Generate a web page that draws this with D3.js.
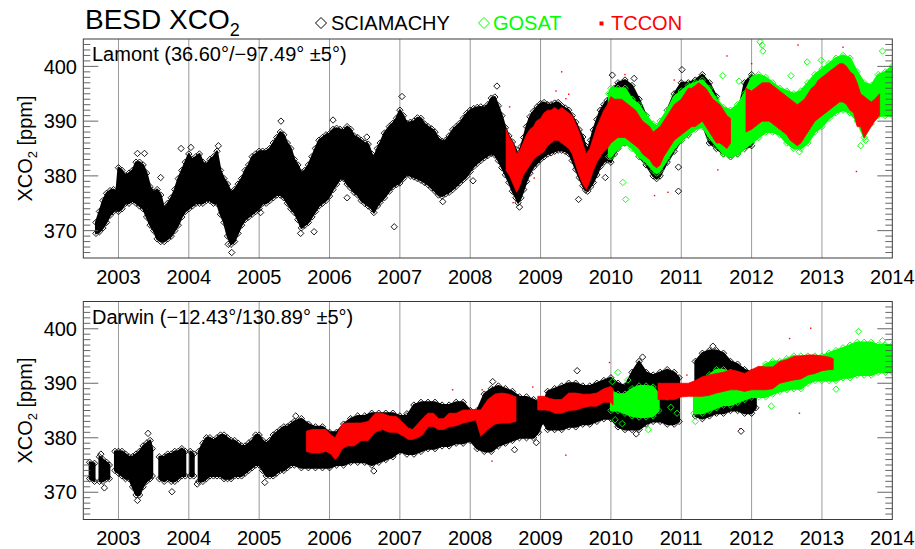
<!DOCTYPE html>
<html><head><meta charset="utf-8">
<script src="https://cdn.jsdelivr.net/npm/d3@7"></script>
<style>body{margin:0;background:#fff}svg text{font-family:"Liberation Sans",Arial,Helvetica,sans-serif}</style>
</head><body><svg id="c" width="915" height="549"></svg>
<script>
// ---------- data ----------
const yearTicks=[2003,2004,2005,2006,2007,2008,2009,2010,2011,2012,2013,2014];
const yTicks=[370,380,390,400];
const seriesNames=["SCIAMACHY","GOSAT","TCCON"];
const seriesColors=["#000000","#00ff00","#ff0000"];
const siteLabels=["Lamont (36.60°/\u221297.49° \u00b15°)","Darwin (\u221212.43°/130.89° \u00b15°)"];

// [year, low, high] envelopes of the point clouds (null = gap)
const sciaLamont=[[2002.68,369.5,371.5],[2002.73,369.8,373.5],[2002.78,370.5,375.5],[2002.83,371.5,376.8],[2002.88,372.8,377.3],[2002.93,373.5,377.5],[2002.97,374,377],[2003.00,373.5,381.5],[2003.05,374,381],[2003.10,375,380],[2003.15,375,380.5],[2003.20,375.5,381],[2003.25,375,382.5],[2003.30,374.5,382.5],[2003.35,374,382],[2003.40,372.5,380.5],[2003.45,371,378],[2003.50,370,377],[2003.55,368.5,377.5],[2003.60,368,376.5],[2003.65,368,374],[2003.70,368.5,375],[2003.75,369,376],[2003.80,370,377.5],[2003.85,371,379.5],[2003.90,372.5,381],[2003.95,373.5,382.5],[2004.00,374,384],[2004.05,374.5,383],[2004.10,375,383.5],[2004.15,375,384],[2004.20,375,382.5],[2004.25,375.5,382],[2004.30,375.5,383],[2004.35,375,383.5],[2004.40,375,384.5],[2004.45,373,381],[2004.50,371.5,379.5],[2004.55,369,378.5],[2004.60,367.5,377],[2004.65,368,377.5],[2004.70,369.5,378.5],[2004.75,371,379.5],[2004.80,372,381],[2004.85,372.5,382],[2004.90,373,383.5],[2004.95,373.5,384],[2005.00,374,384.5],[2005.05,375,384.5],[2005.10,375,384.5],[2005.15,375.5,385],[2005.20,376,386],[2005.25,376.5,387],[2005.30,376.5,388],[2005.35,376,387.5],[2005.40,375,386],[2005.45,374,385],[2005.50,373.3,383],[2005.55,372,382],[2005.60,370.5,380.5],[2005.65,371,381],[2005.70,371.5,382],[2005.75,372.5,383.5],[2005.80,373.5,385],[2005.85,374.5,386.5],[2005.90,375,387],[2005.95,375.5,387.5],[2006.00,376.3,387.7],[2006.05,377.5,388.5],[2006.10,378.5,388.7],[2006.15,379.5,388.5],[2006.20,379.5,388.3],[2006.25,378.5,389],[2006.30,377.8,388.5],[2006.35,377,387.3],[2006.40,376.5,387],[2006.45,375.5,386.5],[2006.50,375,386],[2006.55,374.5,385.8],[2006.60,374,384],[2006.63,373.3,383.3],[2006.68,374.5,385],[2006.72,375.2,386],[2006.78,376,387.8],[2006.85,377.2,389],[2006.90,378,389.6],[2006.95,378.4,390.5],[2007.00,378.7,392],[2007.05,379.5,391],[2007.10,380.3,389.6],[2007.15,380,389.8],[2007.20,379.8,390],[2007.25,379.5,390.6],[2007.30,379.2,390.5],[2007.35,378.8,389.5],[2007.40,378.4,389],[2007.45,377.8,388.6],[2007.50,377.2,388],[2007.55,376.5,386.8],[2007.60,376.3,386.3],[2007.65,376.7,386.5],[2007.70,377,387.3],[2007.75,377.5,388.4],[2007.80,378.1,389],[2007.85,378.7,389.6],[2007.90,379.3,390.5],[2007.95,379.9,391.4],[2008.00,380.8,392],[2008.05,381.7,392.3],[2008.10,382.3,392.5],[2008.15,382.8,392.6],[2008.20,383.3,392.4],[2008.25,383.7,393],[2008.30,384.1,394.2],[2008.35,383.8,394.4],[2008.40,382.8,392.8],[2008.45,381.5,391],[2008.50,380.2,388.8],[2008.55,378.8,387.3],[2008.60,377.2,386.2],[2008.65,376,384.8],[2008.68,375.1,383.5],[2008.72,376,385.3],[2008.76,377.5,387],[2008.80,379,389],[2008.85,380.5,390.8],[2008.90,381.6,391.8],[2008.95,382.3,392.6],[2009.00,383,393.2],[2009.05,383.5,393.4],[2009.10,384,393],[2009.15,384.2,393],[2009.20,384.5,393.3],[2009.25,384.7,393.4],[2009.30,384.7,392.8],[2009.35,384.5,392.4],[2009.40,384.1,392],[2009.45,382.8,391],[2009.50,381.2,389.8],[2009.55,379.7,388.4],[2009.60,378.2,387.1],[2009.64,377.4,385.5],[2009.67,377.2,384.7],[2009.71,378,386.5],[2009.75,378.8,388.4],[2009.80,380.2,390.3],[2009.85,381.7,392],[2009.90,382.5,393],[2009.95,382.9,393.8],[2010.00,382.5,395],[2010.05,384,396],[2010.10,385,397],[2010.20,386,397.5],[2010.30,385.5,396.5],[2010.40,383.5,394],[2010.50,382,391],[2010.60,380,388],[2010.65,379.5,386],[2010.70,380,388],[2010.80,382.5,392],[2010.90,384.5,395],[2011.00,386.5,397],[2011.10,387.5,397],[2011.20,389,397.5],[2011.30,389.5,398.5],[2011.40,386,397],[2011.50,385,394.5],[2011.60,384,390],[2011.70,383.5,388.5],[2011.80,384,391],[2011.90,385,397],[2012.00,385.5,398.5],[2012.05,387,396]];
const sciaLamontOut=[[2003.27,384.1],[2003.37,384.1],[2003.60,379.7],[2004.61,366],[2004.56,367.5],[2005.31,390],[2003.89,385],[2004.03,385.2],[2004.42,385.5],[2005.02,373.3],[2006.25,376],[2006.92,370.7],[2007.03,394.5],[2005.78,369.8],[2005.59,369.5],[2007.61,375.3],[2008.04,379.1],[2008.38,396.4],[2008.70,374.3],[2009.54,375.7],[2009.92,379.7],[2010.02,398.4],[2006.53,387.1],[2010.96,377.2],[2010.96,381.6],[2011.01,399.4],[2010.33,397.8],[2010.64,380.2],[2006.05,390.2]];
const gosatLamont=[[2009.97,383.5,395],[2010.00,383.5,396],[2010.10,385,396],[2010.20,386,396],[2010.30,385,394],[2010.40,383.5,393],[2010.50,382.5,391],[2010.60,381,389.5],[2010.65,380.5,389],[2010.70,381,390],[2010.80,383,392],[2010.90,385,394.5],[2011.00,386.5,395.5],[2011.10,387.5,396.5],[2011.20,388.5,397],[2011.30,389,397.5],[2011.40,387,396],[2011.50,385.5,394],[2011.60,384,392.5],[2011.70,383.5,392],[2011.80,384,393],[2011.90,385,395],[2012.00,386,398],[2012.10,387,398.5],[2012.20,388,398],[2012.30,388,397],[2012.40,387.5,396],[2012.50,386,395.5],[2012.60,385,395],[2012.70,385,395.5],[2012.80,386,397],[2012.90,388,398.5],[2013.00,389,399.5],[2013.10,390.5,400.5],[2013.20,391.5,401.5],[2013.30,392,402],[2013.40,391.5,401.5],[2013.50,390,399],[2013.60,387,397],[2013.70,389.5,396.5],[2013.80,391,398.5],[2013.90,391,399],[2014.00,391,400]];
const gosatLamontOut=[[2010.17,378.8],[2010.21,375.7],[2012.15,403.9],[2012.16,402.8],[2012.56,398.3],[2012.79,400.8],[2012.99,401.1],[2013.86,402.8],[2011.59,398.3],[2011.82,397.3],[2012.68,384.4],[2013.62,386.5],[2013.55,385.5],[2012.12,404.5]];
const tcconLamont=[[2008.51,381,388.5],[2008.56,380,387],[2008.61,378.5,386],[2008.66,377,384],[2008.70,378,384.5],[2008.75,380,386],[2008.80,381,387.5],[2008.85,382,388.5],[2008.90,383,389],[2008.94,383.5,390],[2009.00,384,390.5],[2009.05,384.5,391.5],[2009.10,385.5,392],[2009.15,386,392],[2009.20,386.5,392.5],[2009.25,386.5,392],[2009.30,386,392.5],[2009.35,385.5,392],[2009.40,385,391.5],[2009.45,384,391],[2009.50,382,389.5],[2009.55,380,388],[2009.60,378.5,386],[2009.65,377.5,384],[2009.70,379,385],[2009.75,381,387],[2009.80,382.5,389],[2009.85,383.5,390.5],[2009.90,384.5,392],[2009.95,385,393],[2010.00,386,394.5],[2010.05,386.5,394],[2010.10,387,394],[2010.15,387,394],[2010.20,387,393.5],[2010.25,386.5,393],[2010.30,386,392.5],[2010.35,385.5,392],[2010.40,385,391],[2010.45,384,390],[2010.50,383.5,389.5],[2010.55,383,389],[2010.60,382,388],[2010.65,381.5,388.5],[2010.70,382,389],[2010.75,383.5,390],[2010.80,384.5,391],[2010.85,385.5,392],[2010.90,386.5,393],[2010.95,387,393.5],[2011.00,387.5,394],[2011.05,388,395],[2011.10,388.5,396],[2011.15,389,396],[2011.20,389,396.5],[2011.25,389.5,397],[2011.30,390,396.5],[2011.35,389,396],[2011.40,388,395],[2011.45,387,394],[2011.50,386,393.5],[2011.55,386,393],[2011.60,385.5,392],[2011.65,385,391],[2011.70,386,390.5],[2011.72,null,null],[2011.92,388,396],[2012.00,388.5,395.5],[2012.05,389,396],[2012.10,389.5,396.5],[2012.15,390,397],[2012.20,390,397],[2012.25,390,397],[2012.30,389.5,396.5],[2012.35,389,396],[2012.40,388.5,395.5],[2012.45,388,395],[2012.50,387.5,394.5],[2012.55,386.5,394],[2012.60,386,393.5],[2012.65,385.5,393],[2012.70,386,393.5],[2012.75,387,394],[2012.80,388,395],[2012.85,389,396],[2012.90,390,396.5],[2012.95,390.5,397.5],[2013.00,391,398],[2013.05,391.5,398.5],[2013.10,392,399],[2013.15,392.5,399.5],[2013.20,393,400],[2013.25,393.5,400.5],[2013.30,393.5,400.5],[2013.35,393,400],[2013.40,392,399],[2013.45,391.5,398.5],[2013.50,389,397],[2013.55,389,395],[2013.60,387,394.5],[2013.65,388,394],[2013.70,389,393.5],[2013.75,390,394],[2013.82,391,395]];
const tcconLamontOut=[[2009.30,399],[2009.22,395.5],[2009.36,394.1],[2008.56,392.6],[2008.61,375.1],[2008.91,379.6],[2009.69,377.5],[2012.66,403.9],[2011.65,401.9],[2013.49,380.8],[2011.52,381.1],[2010.81,377],[2010.62,376.4],[2010.20,398.5],[2009.40,394.9],[2010.90,397.5],[2012.00,400.5],[2013.30,403.5]];

const sciaDarwin=[[2002.59,372.5,375.5],[2002.66,372,375.3],[2002.69,null,null],[2002.73,372,376.5],[2002.78,372,376],[2002.83,372.5,375.5],[2002.87,372.5,375],[2002.91,null,null],[2002.95,374,377.5],[2003.00,373.5,377.5],[2003.05,373,377.5],[2003.10,372.5,377],[2003.15,372.5,376.5],[2003.20,371,376.5],[2003.25,369.5,377],[2003.30,369.5,377.5],[2003.35,371,378.5],[2003.40,372,379],[2003.45,372.5,379.5],[2003.48,373,378],[2003.52,null,null],[2003.58,372.5,376.5],[2003.65,372,376.5],[2003.70,372.5,377],[2003.75,372,377],[2003.80,372,377.5],[2003.85,372.5,377.5],[2003.90,373,378],[2003.95,373,377.5],[2003.98,null,null],[2004.02,373,377.5],[2004.07,373,377],[2004.10,null,null],[2004.14,372,377.5],[2004.20,372,379],[2004.25,372.5,380],[2004.30,373,380],[2004.35,373,379.5],[2004.40,373,380],[2004.45,373,380.5],[2004.50,372.5,380.5],[2004.55,372.5,380],[2004.60,372.5,379.5],[2004.65,373,379.5],[2004.70,373,379],[2004.75,373,378.5],[2004.80,373.5,378.5],[2004.85,374,379],[2004.90,374.5,379.5],[2004.95,375,380.5],[2005.00,375,380.5],[2005.05,374,379.5],[2005.10,373,379],[2005.15,373,379.5],[2005.20,373,380.5],[2005.25,373.5,381],[2005.30,374,381.5],[2005.35,374,382],[2005.40,374.5,382],[2005.45,375,382.5],[2005.50,375,383],[2005.60,374.5,383.5],[2005.70,374.5,382.5],[2005.80,374.5,382],[2005.90,374.5,382],[2006.00,374.5,381],[2006.10,375,381],[2006.20,375,382.5],[2006.30,375.5,383.5],[2006.40,375.5,384],[2006.50,375.5,384],[2006.60,375,384.5],[2006.70,375.5,384.5],[2006.80,376,384.5],[2006.90,376.5,384.5],[2007.00,377.5,384],[2007.10,377,384],[2007.20,377,386],[2007.30,377.5,386.5],[2007.40,378,386.5],[2007.50,378,386.5],[2007.60,378.5,386],[2007.70,378.5,386],[2007.80,379,386.5],[2007.90,379,386.5],[2008.00,379.5,385],[2008.10,378,385],[2008.20,377.5,388],[2008.30,377.5,389],[2008.40,378.5,389.5],[2008.50,379,389],[2008.60,379.5,388.5],[2008.70,380,387.5],[2008.80,380,387.5],[2008.90,380,387],[2008.97,381,386.5],[2009.03,383,386],[2009.10,381.5,388.5],[2009.20,381.5,389],[2009.30,381.5,389.5],[2009.40,382,390],[2009.50,382,390],[2009.60,382.5,389.5],[2009.70,382.5,389.5],[2009.80,383,390],[2009.90,383.5,390.5],[2010.00,383.5,391],[2010.10,382,390],[2010.20,381.5,389.5],[2010.30,381.5,392],[2010.40,381.5,394],[2010.50,382.5,392],[2010.60,383,391.5],[2010.70,383,392],[2010.80,382.5,392.5],[2010.90,382.5,392],[2010.97,383,391],[2011.00,null,null],[2011.20,384,394],[2011.30,383.5,395.5],[2011.40,384,396],[2011.50,384.5,396],[2011.60,384.5,395.5],[2011.70,385,394],[2011.80,385,393.5],[2011.90,384.5,392.5],[2012.00,384.5,392],[2012.06,385.5,391.5]];
const sciaDarwinOut=[[2009.52,392.3],[2008.94,379.1],[2008.63,377.8],[2007.10,384.4],[2006.63,373.9],[2005.52,384],[2008.32,390.3],[2003.42,380.8],[2003.76,370.1],[2003.27,368.5],[2002.75,377],[2002.80,370.8],[2004.12,371.5],[2005.08,371.8],[2010.45,394.8],[2011.45,396.8],[2011.85,381.2],[2010.36,380.7]];
const gosatDarwin=[[2010.00,385,388.5],[2010.10,385,388],[2010.20,384.5,388],[2010.30,384,389],[2010.40,383.8,389.5],[2010.50,383.8,389.5],[2010.60,384,389.3],[2010.68,385,388],[2010.75,null,null],[2011.18,384.5,389.5],[2011.30,384.5,390.5],[2011.40,385,391.5],[2011.50,385.5,392.5],[2011.60,386,392.5],[2011.70,386,392],[2011.80,386.5,391.5],[2011.90,387,391],[2012.00,387.5,391.5],[2012.10,387.5,392.5],[2012.20,387.5,393.5],[2012.30,388,394],[2012.40,388.5,394],[2012.50,388.8,394.5],[2012.60,389,395],[2012.70,389,395],[2012.80,390,395],[2012.90,390.5,395],[2013.00,390.5,395],[2013.10,390.5,395.5],[2013.20,390.5,396],[2013.30,391,396.5],[2013.40,391,397],[2013.50,391.5,397.5],[2013.60,391.5,397.5],[2013.70,391.5,397.5],[2013.80,392,397],[2013.90,392,397],[2014.00,392,397]];
const gosatDarwinOut=[[2013.52,399.5],[2010.53,381.5],[2013.20,388.9],[2012.28,385.8],[2013.86,397.8],[2011.20,383],[2010.10,392],[2010.02,390.3],[2010.06,383.3],[2010.16,382.6],[2010.24,390.6],[2010.80,387.5],[2010.85,385.6],[2010.90,388.4],[2010.94,384.5],[2010.78,389],[2011.9,389.2]];
const tcconDarwin=[[2005.67,377.5,381.2],[2005.75,377.2,381.5],[2005.85,377.2,381.5],[2005.95,377.5,381.5],[2006.02,377,380.5],[2006.08,376,380],[2006.12,376.5,381],[2006.18,378,382.5],[2006.25,378.5,382.7],[2006.35,378.5,382.7],[2006.45,379.5,382.7],[2006.55,379.5,383],[2006.65,381,384.5],[2006.75,381.5,384.5],[2006.85,381,384],[2006.95,381,383.9],[2007.05,380.3,382.7],[2007.12,379.7,381.8],[2007.18,379.7,381.5],[2007.25,380,382.5],[2007.32,380.5,383.5],[2007.40,382,384.5],[2007.48,382,384.5],[2007.55,381.5,383.5],[2007.62,381.5,383.5],[2007.70,382,384.5],[2007.80,382.2,384.5],[2007.90,382.7,385.1],[2008.00,383,385.1],[2008.08,383.3,385.1],[2008.15,380.3,385.1],[2008.25,381.5,387],[2008.35,382.5,388],[2008.45,382.7,388.2],[2008.55,382.7,388],[2008.65,383,387.5],[2008.68,null,null],[2008.96,385.1,387.6],[2009.05,385.1,387.6],[2009.13,385,387.2],[2009.20,384.5,387],[2009.30,384.5,387],[2009.40,385,388.2],[2009.50,385.1,388.2],[2009.60,385.5,388],[2009.70,385.8,388],[2009.80,385.8,388.2],[2009.90,386.5,389],[2010.00,386.5,389.4],[2010.03,386,389],[2010.06,null,null],[2010.67,387,390],[2010.80,387,390],[2010.90,387,390],[2011.00,387.5,390],[2011.10,387.6,390],[2011.20,387.6,390.5],[2011.30,387.6,391.2],[2011.40,387.8,391.5],[2011.50,388.2,391.8],[2011.60,388.5,392],[2011.70,388.8,392.5],[2011.80,388.8,392.2],[2011.90,388.5,391.8],[2012.00,388.8,392.5],[2012.10,388.8,393.1],[2012.20,388.8,393],[2012.30,389,393],[2012.40,390,394],[2012.50,390.3,394.3],[2012.60,390.6,394.9],[2012.70,390.8,395],[2012.80,391.5,395.2],[2012.90,391.8,395.2],[2013.00,392.3,395],[2013.10,392.5,394.8],[2013.16,392.5,394.5]];
const tcconDarwinOut=[[2012.84,400.1],[2012.54,398.2],[2012.68,384.5],[2011.83,381.6],[2011.08,391.5],[2007.75,388.8],[2008.17,388.8],[2008.89,389.3],[2009.36,376.8],[2008.31,375.7],[2009.98,393.8]];

// ---------- drawing ----------
const svg=d3.select("#c");
const x=d3.scaleLinear().domain([2002.5,2014]).range([83.3,892.3]);
const panels=[
 {top:39,bottom:258,label:siteLabels[0],sets:[[sciaLamont,sciaLamontOut],[gosatLamont,gosatLamontOut],[tcconLamont,tcconLamontOut]]},
 {top:301.5,bottom:519.5,label:siteLabels[1],sets:[[sciaDarwin,sciaDarwinOut],[gosatDarwin,gosatDarwinOut],[tcconDarwin,tcconDarwinOut]]}
];
const dia=r=>`M0,${-r}L${r},0L0,${r}L${-r},0Z`;

panels.forEach((p,pi)=>{
  const y=d3.scaleLinear().domain([365,405]).range([p.bottom,p.top]);
  const g=svg.append("g");
  const cid="clip"+pi;
  svg.append("clipPath").attr("id",cid).append("rect")
    .attr("x",x.range()[0]).attr("y",p.top).attr("width",x.range()[1]-x.range()[0]).attr("height",p.bottom-p.top);
  g.selectAll(".grid").data(yearTicks.slice(0,-1)).join("line")
    .attr("x1",d=>x(d)).attr("x2",d=>x(d)).attr("y1",p.top).attr("y2",p.bottom)
    .attr("stroke","#9a9a9a").attr("stroke-width",1);
  const data=g.append("g").attr("clip-path",`url(#${cid})`);
  const area=d3.area().defined(d=>d[1]!=null).x(d=>x(d[0])).y0(d=>y(d[1])).y1(d=>y(d[2]));
  p.sets.forEach((s,si)=>{
    const col=seriesColors[si];
    const env=s[0],out=s[1];
    data.append("path").datum(env).attr("d",area).attr("fill",col)
      .attr("stroke",col).attr("stroke-width",si==2?0.8:2).attr("stroke-linejoin","round");
    const def=env.filter(d=>d[1]!=null);
    if(si<2){
      const edge=[];
      def.forEach(d=>{edge.push([d[0],d[1]]);edge.push([d[0],d[2]]);});
      data.selectAll(null).data(edge.concat(out)).join("path")
        .attr("d",dia(3.2)).attr("transform",d=>`translate(${x(d[0])},${y(d[1])})`)
        .attr("fill","none").attr("stroke",col).attr("stroke-width",0.9);
    } else {
      data.selectAll(null).data(out).join("rect")
        .attr("x",d=>x(d[0])-0.7).attr("y",d=>y(d[1])-0.7).attr("width",1.4).attr("height",1.4)
        .attr("fill",col);
    }
  });
  g.append("rect").attr("x",x.range()[0]).attr("y",p.top)
    .attr("width",x.range()[1]-x.range()[0]).attr("height",p.bottom-p.top)
    .attr("fill","none").attr("stroke","#3a3a3a").attr("stroke-width",1);
  const xm=d3.range(2025,2140).map(v=>v/10).filter(v=>v>2002.5&&v<2014);
  g.selectAll(".xt").data(xm).join("path")
    .attr("d",d=>`M${x(d)},${p.bottom}v-3.5M${x(d)},${p.top}v3.5`)
    .attr("stroke","#555").attr("stroke-width",0.8);
  const ym=d3.range(366,405);
  g.selectAll(".yt").data(ym).join("path")
    .attr("d",d=>{const L=(d%10==0)?15:7;return `M${x.range()[0]},${y(d)}h${L}M${x.range()[1]},${y(d)}h${-L}`;})
    .attr("stroke","#555").attr("stroke-width",0.9);
  g.selectAll(".yl").data(yTicks).join("text")
    .attr("x",77).attr("y",d=>y(d)).attr("dy","0.36em").attr("text-anchor","end")
    .attr("font-size",20).text(d=>d);
  g.selectAll(".xl").data(yearTicks).join("text")
    .attr("x",d=>x(d)).attr("y",p.bottom+25.5).attr("text-anchor","middle")
    .attr("font-size",20).text(d=>d);
  const yt=g.append("text").attr("transform",`translate(32,${(p.top+p.bottom)/2}) rotate(-90)`)
    .attr("text-anchor","middle").attr("font-size",20);
  yt.append("tspan").text("XCO");
  yt.append("tspan").attr("font-size",13).attr("dy",5).text("2");
  yt.append("tspan").attr("dy",-5).text(" [ppm]");
  g.append("text").attr("x",92).attr("y",p.top+22).attr("font-size",20).text(p.label);
});

const t=svg.append("text").attr("x",85).attr("y",29).attr("font-size",28);
t.append("tspan").text("BESD XCO");
t.append("tspan").attr("font-size",18).attr("dy",7).text("2");
const leg=[{x:321,t:331},{x:484,t:493},{x:601.5,t:611}];
seriesNames.forEach((n,i)=>{
  if(i<2){
    svg.append("path").attr("d",dia(5.5)).attr("transform",`translate(${leg[i].x},23)`)
      .attr("fill","none").attr("stroke",seriesColors[i]).attr("stroke-width",1);
  } else {
    svg.append("rect").attr("x",leg[i].x-2).attr("y",21.5).attr("width",4).attr("height",4).attr("fill",seriesColors[i]);
  }
  svg.append("text").attr("x",leg[i].t).attr("y",30).attr("font-size",20)
    .attr("fill",i==0?"#000":seriesColors[i]).text(n);
});
</script></body></html>
